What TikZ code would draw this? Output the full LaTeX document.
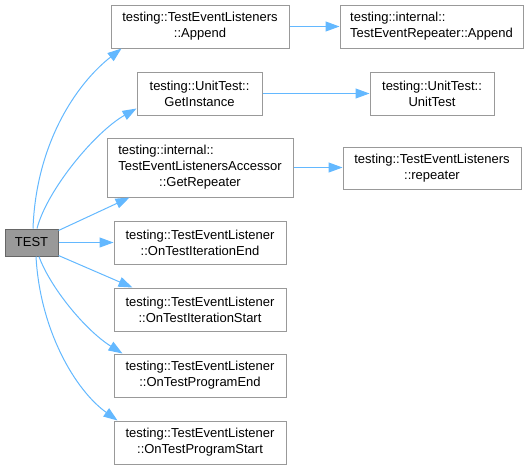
\documentclass[tikz,border=0pt]{standalone}
\usepackage{fontspec}
\setmainfont{Liberation Sans}
\usetikzlibrary{arrows.meta,calc}
\definecolor{edgeblue}{HTML}{63B8FF}
\definecolor{boxgray}{HTML}{999999}
\definecolor{rootborder}{HTML}{666666}
\begin{document}
\begin{tikzpicture}[x=1pt,y=-1pt,
  fn/.style={draw=boxgray, line width=1pt, fill=white, inner sep=0pt, align=center,
    font=\fontsize{13}{16}\selectfont},
  root/.style={fn, fill=boxgray, draw=rootborder},
  sz/.style 2 args={minimum width=#1pt, minimum height=#2pt},
  call/.style={draw=edgeblue, line width=1pt, -{Triangle[length=14pt,width=10pt]}}]
\useasboundingbox (0,0) rectangle (529,469);

\node[root, sz={53}{27}] (test) at (31.5,242.5) {TEST};

\node[fn, sz={178}{43}] (append) at (200,26.5) {testing::TestEventListeners\\::Append};
\node[fn, sz={125}{43}] (getinst) at (199.5,93.5) {testing::UnitTest::\\GetInstance};
\node[fn, sz={186}{59}] (getrep) at (200,167.5) {\begin{tabular}{@{}l@{}}testing::internal::\\TestEventListenersAccessor\\\multicolumn{1}{@{}c@{}}{::GetRepeater}\end{tabular}};
\node[fn, sz={172}{43}] (iterend) at (200,242.5) {testing::TestEventListener\\::OnTestIterationEnd};
\node[fn, sz={172}{43}] (iterstart) at (200,309.5) {testing::TestEventListener\\::OnTestIterationStart};
\node[fn, sz={172}{43}] (progend) at (200,375.5) {testing::TestEventListener\\::OnTestProgramEnd};
\node[fn, sz={172}{43}] (progstart) at (200,442.5) {testing::TestEventListener\\::OnTestProgramStart};

\node[fn, sz={183}{43}] (terappend) at (431.5,26.5) {\begin{tabular}{@{}l@{}}testing::internal::\\TestEventRepeater::Append\end{tabular}};
\node[fn, sz={124}{43}] (unittest) at (432,93.5) {testing::UnitTest::\\UnitTest};
\node[fn, sz={178}{42}] (repeater) at (432,168) {testing::TestEventListeners\\::repeater};

% edges from TEST
\draw[call] ($(test.north)+(1.5,0)$) .. controls (36,145) and (75,85) .. ($(append.south west)+(11,0)$);
\draw[call] ($(test.north)+(5.5,0)$) .. controls (47,190) and (95,132) .. ($(getinst.south west)+(0,-7)$);
\draw[call] ($(test.north east)+(0,2)$) -- ($(getrep.south west)+(23,0)$);
\draw[call] (test.east) -- (iterend.west);
\draw[call] ($(test.south east)+(0,-1)$) -- ($(iterstart.north west)+(19,0)$);
\draw[call] ($(test.south)+(7.5,0)$) .. controls (50,287) and (85,330) .. ($(progend.north west)+(9,0)$);
\draw[call] ($(test.south)+(4.5,0)$) .. controls (40,330) and (75,390) .. ($(progstart.north west)+(4,0)$);

% second level
\draw[call] (append.east) -- (terappend.west);
\draw[call] (getinst.east) -- (unittest.west);
\draw[call] (getrep.east) -- (getrep.east -| repeater.west);
\end{tikzpicture}
\end{document}
